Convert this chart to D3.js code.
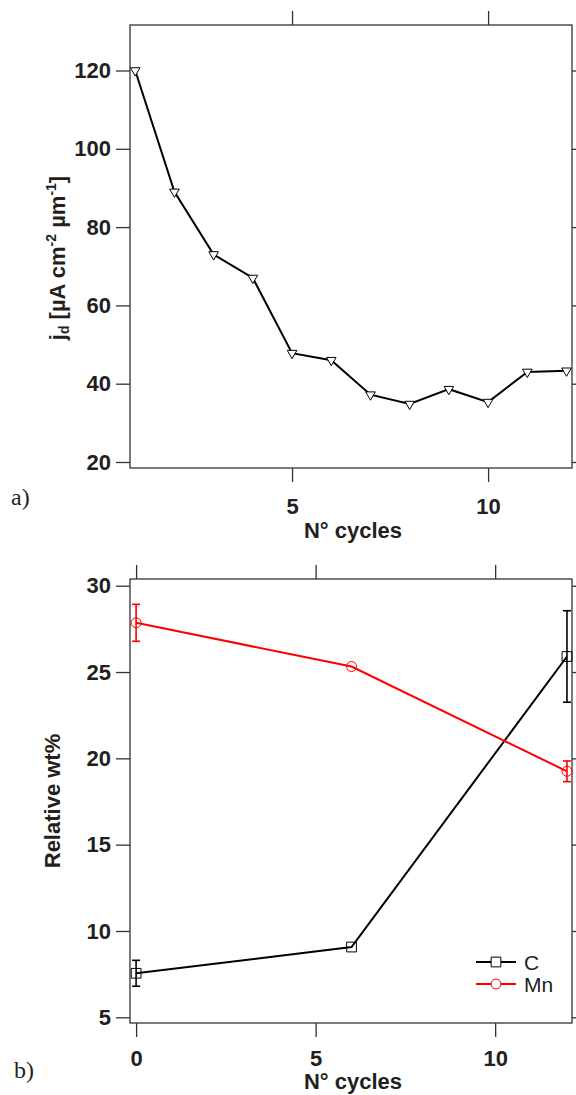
<!DOCTYPE html>
<html><head><meta charset="utf-8">
<script src="https://cdn.jsdelivr.net/npm/d3@7"></script>
<style>body{margin:0;background:#fff}svg{display:block}</style>
</head><body>
<svg id="c" width="576" height="1095"></svg>
<script>
// Panel a data
const cyclesA = [1,2,3,4,5,6,7,8,9,10,11,12];
const jd = [120,89,73,67,47.8,46,37.2,34.8,38.6,35.3,43,43.3];
const ticksAX = [5,10];
const ticksAY = [20,40,60,80,100,120];
// Panel b data
const cyclesB = [0,6,12];
const cVals = [7.55,9.07,25.9];
const cErr = [0.75,0,2.65];
const mnVals = [27.85,25.32,19.25];
const mnErr = [1.07,0,0.6];
const ticksBX = [0,5,10];
const ticksBY = [5,10,15,20,25,30];

const svg = d3.select("#c");
const FONT = "'Liberation Sans', Arial, sans-serif";
const SERIF = "'Liberation Serif', 'Times New Roman', serif";
const frameCol = "#333";
const FS = 22;

function frame(g, x, y, xt, yt, L, R, T, B, padB){
  g.append("rect").attr("x",L).attr("y",T).attr("width",R-L).attr("height",B-T)
   .attr("fill","none").attr("stroke",frameCol).attr("stroke-width",1.3);
  const tl = 14;
  g.append("g").attr("transform",`translate(0,${B})`)
   .call(d3.axisBottom(x).tickValues(xt).tickSize(tl).tickPadding(padB).tickFormat(d3.format("d")))
   .call(a=>a.select(".domain").remove());
  g.append("g").attr("transform",`translate(0,${T})`)
   .call(d3.axisTop(x).tickValues(xt).tickSize(tl).tickFormat(""))
   .call(a=>a.select(".domain").remove());
  g.append("g").attr("transform",`translate(${L},0)`)
   .call(d3.axisLeft(y).tickValues(yt).tickSize(tl).tickPadding(5).tickFormat(d3.format("d")))
   .call(a=>a.select(".domain").remove());
  g.append("g").attr("transform",`translate(${R},0)`)
   .call(d3.axisRight(y).tickValues(yt).tickSize(tl).tickFormat(""))
   .call(a=>a.select(".domain").remove());
  g.selectAll(".tick line").attr("stroke",frameCol).attr("stroke-width",1.3);
  g.selectAll(".tick text").attr("font-family",FONT).attr("font-weight","bold")
   .attr("font-size",FS).attr("fill","#231f20");
}

// ---------- Panel a ----------
const La=130, Ra=572, Ta=25, Ba=468;
const xA = d3.scaleLinear().domain([0.867,12.14]).range([La,Ra]);
const yA = d3.scaleLinear().domain([20,120]).range([462,70.5]);
const gA = svg.append("g");
frame(gA, xA, yA, ticksAX, ticksAY, La, Ra, Ta, Ba, 16);
const ptsA = cyclesA.map((c,i)=>[xA(c), yA(jd[i])]);
gA.append("path").attr("d", d3.line()(ptsA)).attr("fill","none").attr("stroke","#000").attr("stroke-width",2);
const tri = d3.symbol().type(d3.symbolTriangle).size(40);
gA.selectAll(".tri").data(ptsA).join("path")
  .attr("d", tri).attr("transform", d=>`translate(${d[0]},${d[1]}) rotate(180)`)
  .attr("fill","#fff").attr("stroke","#000").attr("stroke-width",1);
gA.append("text").attr("x",353).attr("y",538).attr("text-anchor","middle")
  .attr("font-family",FONT).attr("font-weight","bold").attr("font-size",FS).attr("fill","#231f20").text("N° cycles");
const ta = gA.append("text").attr("transform","translate(65,258) rotate(-90)").attr("text-anchor","middle")
  .attr("font-family",FONT).attr("font-weight","bold").attr("font-size",FS).attr("fill","#231f20");
ta.append("tspan").text("j");
ta.append("tspan").attr("font-size",14).attr("dy",4).text("d");
ta.append("tspan").attr("dy",-4).text(" [µA cm");
ta.append("tspan").attr("font-size",14).attr("dy",-9).text("-2");
ta.append("tspan").attr("dy",9).text(" µm");
ta.append("tspan").attr("font-size",14).attr("dy",-9).text("-1");
ta.append("tspan").attr("dy",9).text("]");
svg.append("text").attr("x",11).attr("y",505).attr("font-family",SERIF)
  .attr("font-size",24).attr("fill","#231f20").text("a)");

// ---------- Panel b ----------
const Lb=130, Rb=572, Tb=579, Bb=1023;
const xB = d3.scaleLinear().domain([-0.17,12.14]).range([Lb,Rb]);
const yB = d3.scaleLinear().domain([5,30]).range([1017.3,585.7]);
const gB = svg.append("g");
frame(gB, xB, yB, ticksBX, ticksBY, Lb, Rb, Tb, Bb, 13);
const series = [
  {name:"C", vals:cVals, err:cErr, col:"#000", sym:d3.symbolSquare, size:95},
  {name:"Mn", vals:mnVals, err:mnErr, col:"#ff0000", sym:d3.symbolCircle, size:78}
];
series.forEach(s=>{
  const pts = cyclesB.map((c,i)=>[xB(c), yB(s.vals[i]), s.err[i], s.vals[i]]);
  gB.append("path").attr("d", d3.line()(pts.map(p=>[p[0],p[1]]))).attr("fill","none").attr("stroke",s.col).attr("stroke-width",2);
  pts.filter(p=>p[2]>0).forEach(p=>{
    const y1=yB(p[3]+p[2]), y2=yB(p[3]-p[2]);
    gB.append("line").attr("x1",p[0]).attr("x2",p[0]).attr("y1",y1).attr("y2",y2).attr("stroke",s.col).attr("stroke-width",1.6);
    [y1,y2].forEach(yy=>gB.append("line").attr("x1",p[0]-4).attr("x2",p[0]+4).attr("y1",yy).attr("y2",yy).attr("stroke",s.col).attr("stroke-width",1.6));
  });
  gB.selectAll(null).data(pts).join("path").attr("d", d3.symbol().type(s.sym).size(s.size))
    .attr("transform", d=>`translate(${d[0]},${d[1]})`).attr("fill","none")
    .attr("stroke",s.col).attr("stroke-width",1);
});
// legend
series.forEach((s,i)=>{
  const ly = 962 + i*22;
  gB.append("line").attr("x1",476).attr("x2",516).attr("y1",ly).attr("y2",ly).attr("stroke",s.col).attr("stroke-width",2);
  gB.append("path").attr("d", d3.symbol().type(s.sym).size(s.size)).attr("transform",`translate(496,${ly})`)
    .attr("fill","#fff").attr("stroke",s.col).attr("stroke-width",1);
  gB.append("text").attr("x",524).attr("y",ly+7.5).attr("font-family",FONT).attr("font-size",21).attr("fill","#231f20").text(s.name);
});
gB.append("text").attr("x",353).attr("y",1089).attr("text-anchor","middle")
  .attr("font-family",FONT).attr("font-weight","bold").attr("font-size",FS).attr("fill","#231f20").text("N° cycles");
gB.append("text").attr("transform","translate(60,801) rotate(-90)").attr("text-anchor","middle")
  .attr("font-family",FONT).attr("font-weight","bold").attr("font-size",FS).attr("fill","#231f20").text("Relative wt%");
svg.append("text").attr("x",14).attr("y",1078).attr("font-family",SERIF)
  .attr("font-size",24).attr("fill","#231f20").text("b)");
</script>
</body></html>
